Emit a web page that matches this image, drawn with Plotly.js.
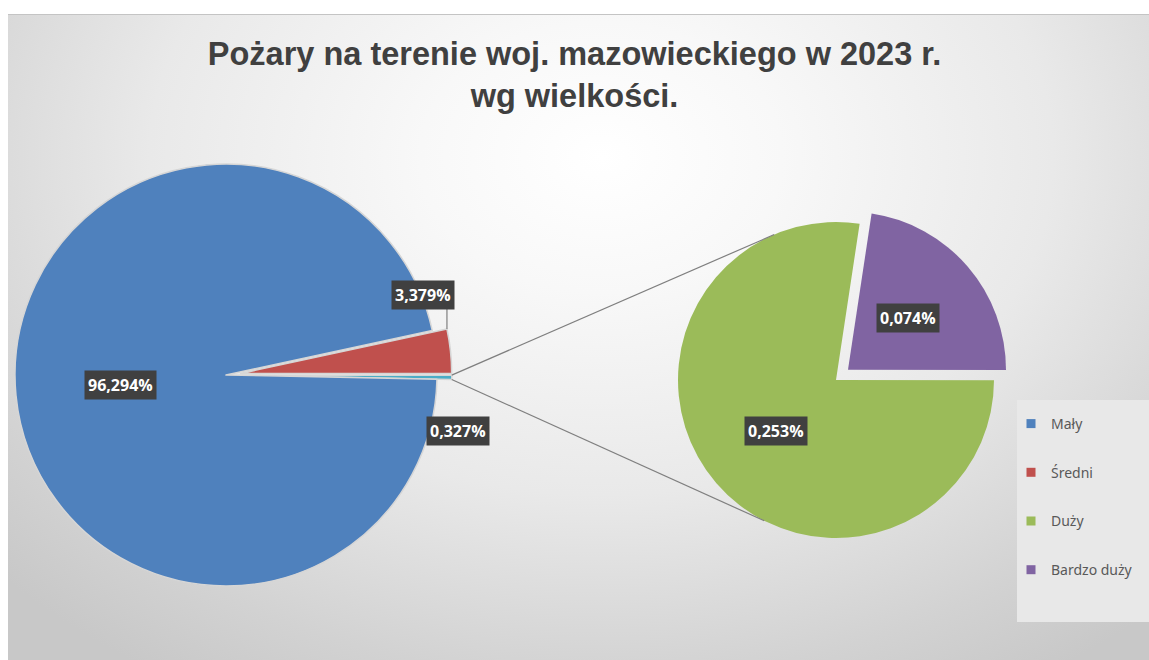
<!DOCTYPE html>
<html><head><meta charset="utf-8">
<script src="https://cdn.plot.ly/plotly-3.0.1.min.js"></script>
<style>
html,body{margin:0;padding:0;background:#ffffff;overflow:hidden;}
#bg{position:absolute;left:8px;top:14px;width:1141px;height:646px;border-top:1px solid #c4c4c4;
background: radial-gradient(ellipse 72% 95% at 52% 22%, #ffffff 0%, #f8f8f8 22%, #e9e9e9 55%, #d2d2d2 85%, #c8c8c8 100%);}
#chart{position:absolute;left:0;top:0;width:1149px;height:660px;}
</style></head><body>
<div id="bg"></div><div id="chart"></div>
<script>
// ---- data ----
const categories = ['Mały', 'Średni', 'Duży', 'Bardzo duży'];
const shares = [96.294, 3.379, 0.253, 0.074];
const colors = ['#4f81bd', '#c0504d', '#9bbb59', '#8064a2'];
const otherColor = '#4bacc6';
const titleText = 'Pożary na terenie woj. mazowieckiego w 2023 r.<br>wg wielkości.';

// ---- layout geometry (pixels) ----
const W = 1149, H = 660;
const mainPie = {cx: 226, cy: 375, r: 211, pull: 0.07, rotation: 90};
const secPie = {cx: 836, cy: 380, r: 158, pull: 0.10, rotation: 8.6};
const connectorEnds = [337, 207];          // clockwise-from-top angles on second pie
const outsideLabel = {sredni: {frac: 1.01, dAng: -16}, other: {frac: 1.131, dAng: 13}};

const fmt = v => v.toFixed(3).replace('.', ',') + '%';
const px = x => x / W, py = y => 1 - y / H;
function polar(cx, cy, r, deg) {
  const a = deg * Math.PI / 180;
  return [cx + r * Math.sin(a), cy - r * Math.cos(a)];
}
function domainOf(p) {
  const half = p.r * (1 + p.pull);
  return {x: [Math.max(0, px(p.cx - half)), Math.min(1, px(p.cx + half))],
          y: [py(p.cy + half), py(p.cy - half)]};
}

const otherVal = shares[2] + shares[3];
const mainVals = [otherVal, shares[0], shares[1]];         // clockwise from 3 o'clock
const mainTot = mainVals.reduce((a, b) => a + b, 0);
const aOther = otherVal / mainTot * 360, aMaly = shares[0] / mainTot * 360, aSr = shares[1] / mainTot * 360;
const r0 = mainPie.rotation;
const midOther = r0 + aOther / 2, midMaly = r0 + aOther + aMaly / 2, midSr = r0 + aOther + aMaly + aSr / 2;
const pullPx = mainPie.r * mainPie.pull;
const cOther = polar(mainPie.cx, mainPie.cy, pullPx, midOther);
const cSr = polar(mainPie.cx, mainPie.cy, pullPx, midSr);

const secVals = [shares[3], shares[2]];
const secTot = secVals[0] + secVals[1];
const aPur = secVals[0] / secTot * 360, aGr = secVals[1] / secTot * 360;
const midPur = secPie.rotation + aPur / 2, midGr = secPie.rotation + aPur + aGr / 2;
const cPur = polar(secPie.cx, secPie.cy, secPie.r * secPie.pull, midPur);

const traces = [
  {type: 'pie', labels: ['Inne', categories[0], categories[1]], values: mainVals,
   marker: {colors: [otherColor, colors[0], colors[1]], line: {color: '#d6d6d6', width: 1.5}},
   sort: false, direction: 'clockwise', rotation: mainPie.rotation,
   pull: [mainPie.pull, 0, mainPie.pull], textinfo: 'none', showlegend: false,
   domain: domainOf(mainPie), hoverinfo: 'skip'},
  {type: 'pie', labels: [categories[3], categories[2]], values: secVals,
   marker: {colors: [colors[3], colors[2]], line: {width: 0}},
   sort: false, direction: 'clockwise', rotation: secPie.rotation,
   pull: [secPie.pull, 0], textinfo: 'none', showlegend: false,
   domain: domainOf(secPie), hoverinfo: 'skip'}
];
categories.forEach((c, i) => traces.push({
  type: 'scatter', mode: 'markers', x: [null], y: [null], name: c, legendgroup: 'g' + i,
  marker: {symbol: 'square', size: 9, color: colors[i]}, hoverinfo: 'skip'
}));

// annotation positions
const lab = (pt, text) => ({x: px(pt[0]), y: py(pt[1]), xref: 'paper', yref: 'paper', text: text,
  xanchor: 'center', yanchor: 'middle',
  showarrow: false, bgcolor: '#404040', borderpad: 3,
  font: {family: 'Open Sans', size: 16, color: '#ffffff', weight: 'bold'}});
const pMaly = polar(mainPie.cx, mainPie.cy, mainPie.r * 0.5, midMaly);
const pSr = polar(mainPie.cx, mainPie.cy, mainPie.r * outsideLabel.sredni.frac, midSr + outsideLabel.sredni.dAng);
const pOther = polar(mainPie.cx, mainPie.cy, mainPie.r * outsideLabel.other.frac, midOther + outsideLabel.other.dAng);
const pGr = polar(secPie.cx, secPie.cy, secPie.r * 0.5, midGr);
const pPur = polar(cPur[0], cPur[1], secPie.r * 0.5, midPur);
const annotations = [
  lab(pMaly, fmt(shares[0])), lab(pSr, fmt(shares[1])), lab(pOther, fmt(otherVal)),
  lab(pGr, fmt(shares[2])), lab(pPur, fmt(shares[3]))
];

// connectors and leader line
const srCorner = polar(cSr[0], cSr[1], mainPie.r, r0 + aOther + aMaly);
const oTop = polar(cOther[0], cOther[1], mainPie.r, r0);
const oBot = polar(cOther[0], cOther[1], mainPie.r, r0 + aOther);
const eTop = polar(secPie.cx, secPie.cy, secPie.r, connectorEnds[0]);
const eBot = polar(secPie.cx, secPie.cy, secPie.r, connectorEnds[1]);
const line = (a, b, col) => ({type: 'line', xref: 'paper', yref: 'paper', x0: px(a[0]), y0: py(a[1]),
  x1: px(b[0]), y1: py(b[1]), line: {color: col, width: 1.2}});
const shapes = [
  {type: 'rect', xref: 'paper', yref: 'paper', x0: px(1017), x1: 1, y0: py(622), y1: py(400),
   fillcolor: '#e8e8e8', line: {width: 0}, layer: 'below'},
  line(oTop, eTop, '#7f7f7f'), line(oBot, eBot, '#7f7f7f'),
  line(srCorner, [srCorner[0], pSr[1] + 13], '#7f7f7f')
];

const layout = {
  width: W, height: H, margin: {l: 0, r: 0, t: 0, b: 0},
  paper_bgcolor: 'rgba(0,0,0,0)', plot_bgcolor: 'rgba(0,0,0,0)',
  title: {text: titleText, x: 0.5, xanchor: 'center', y: 1 - 65 / H, yanchor: 'middle', yref: 'container',
          font: {family: 'Liberation Sans, Arial, sans-serif', size: 32.5, color: '#404040', weight: 'bold'}},
  xaxis: {visible: false}, yaxis: {visible: false},
  showlegend: true,
  legend: {x: px(1011), xanchor: 'left', y: py(408), yanchor: 'top', bgcolor: 'rgba(0,0,0,0)',
           traceorder: 'grouped', tracegroupgap: 27.5,
           font: {family: 'Noto Sans, sans-serif', size: 14, color: '#595959'}},
  shapes: shapes, annotations: annotations, hovermode: false
};
Plotly.newPlot('chart', traces, layout, {displayModeBar: false, staticPlot: true});
</script>
</body></html>
